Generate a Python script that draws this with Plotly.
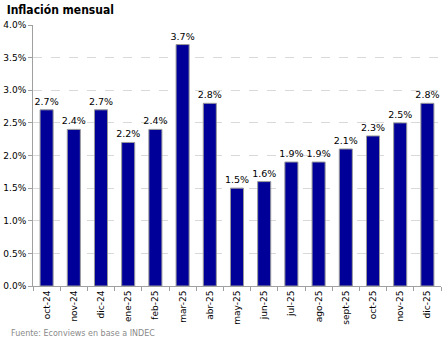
import plotly.graph_objects as go

categories = ["oct-24", "nov-24", "dic-24", "ene-25", "feb-25", "mar-25", "abr-25", "may-25",
              "jun-25", "jul-25", "ago-25", "sept-25", "oct-25", "nov-25", "dic-25"]
values = [2.7, 2.4, 2.7, 2.2, 2.4, 3.7, 2.8, 1.5, 1.6, 1.9, 1.9, 2.1, 2.3, 2.5, 2.8]
labels = [f"{v:.1f}%" for v in values]
y_ticks = [0, 0.5, 1.0, 1.5, 2.0, 2.5, 3.0, 3.5, 4.0]
y_tick_text = [f"{t:.1f}%" for t in y_ticks]

fig = go.Figure()
fig.add_trace(go.Bar(
    x=categories, y=values, text=labels, textposition="outside",
    constraintext="none",
    textfont=dict(size=9.5, color="#000000", family="DejaVu Sans"),
    marker=dict(color="#000099", line=dict(color="#9a9a9a", width=1)),
    width=0.48, cliponaxis=False,
))

fig.update_layout(
    width=443, height=340,
    margin=dict(l=33, r=2, t=25, b=54),
    plot_bgcolor="white", paper_bgcolor="white",
    showlegend=False,
    font=dict(family="DejaVu Sans", size=9, color="#000000"),
    title=dict(text="<b>Inflación mensual</b>", x=0.015, xanchor="left", y=0.985, yanchor="top",
               font=dict(size=12, family="DejaVu Sans Condensed", color="#000000")),
    annotations=[dict(text="Fuente: Econviews en base a INDEC", xref="paper", yref="paper",
                      x=-0.06, y=-0.205, xanchor="left", yanchor="bottom", showarrow=False,
                      font=dict(size=8, color="#8a8a8a", family="DejaVu Sans"))],
)
fig.update_yaxes(range=[0, 4.0], tickvals=y_ticks, ticktext=y_tick_text,
                 showgrid=True, gridcolor="#d9d9d9", griddash="dash", gridwidth=1,
                 showline=True, linecolor="#a0a0a0", linewidth=1,
                 ticks="outside", ticklen=4, tickcolor="#a0a0a0",
                 tickfont=dict(size=9), zeroline=False)
fig.update_xaxes(tickangle=-90, showline=True, linecolor="#a0a0a0", linewidth=1,
                 ticks="outside", ticklen=4, tickcolor="#a0a0a0", tickson="boundaries",
                 tickfont=dict(size=9))

fig.write_html("out.html")
